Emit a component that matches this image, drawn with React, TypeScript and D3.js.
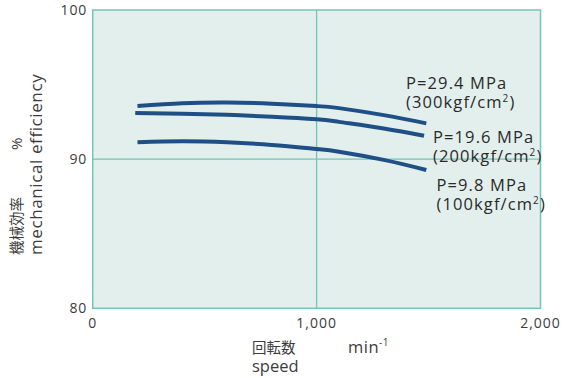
import React from "react";
import * as d3 from "d3";

const speeds29 = [200, 400, 600, 800, 1000, 1100, 1300, 1490];
const eff29 = [93.56, 93.75, 93.8, 93.72, 93.56, 93.42, 92.95, 92.4];
const speeds19 = [190, 400, 600, 800, 1000, 1100, 1300, 1480];
const eff19 = [93.1, 93.05, 92.97, 92.85, 92.68, 92.5, 92.05, 91.57];
const speeds9 = [200, 400, 600, 800, 1000, 1100, 1300, 1490];
const eff9 = [91.13, 91.2, 91.13, 90.95, 90.68, 90.5, 89.95, 89.27];

const xTicks = [0, 1000, 2000];
const yTicks = [80, 90, 100];
const labels = [
  { p: "P=29.4 MPa", k: "(300kgf/cm", sup: "2", end: ")" },
  { p: "P=19.6 MPa", k: "(200kgf/cm", sup: "2", end: ")" },
  { p: "P=9.8 MPa", k: "(100kgf/cm", sup: "2", end: ")" },
];

const W = 563, H = 378;
const M = { left: 92.7, top: 10, right: 540.5, bottom: 308.3 };
const LATIN = "'Open Sans', 'Noto Sans', sans-serif";
const CJK = "'Noto Sans CJK JP', sans-serif";
const TXT = "#3c3c3c";
const GRID = "#74c5b6";

export default function App() {
  const x = d3.scaleLinear().domain([0, 2000]).range([M.left, M.right]);
  const y = d3.scaleLinear().domain([80, 100]).range([M.bottom, M.top]);
  const line = d3
    .line<[number, number]>()
    .x((d) => x(d[0]))
    .y((d) => y(d[1]))
    .curve(d3.curveNatural);
  const series = [
    speeds29.map((s, i) => [s, eff29[i]] as [number, number]),
    speeds19.map((s, i) => [s, eff19[i]] as [number, number]),
    speeds9.map((s, i) => [s, eff9[i]] as [number, number]),
  ];
  const labelPos = [
    { x: 406, y: 88.5 },
    { x: 433, y: 142.5 },
    { x: 436.5, y: 190.5 },
  ];
  return (
    <svg
      width={W}
      height={H}
      style={{ position: "absolute", left: 0, top: 0 }}
      fontFamily={LATIN}
    >
      <rect x={M.left} y={M.top} width={M.right - M.left} height={M.bottom - M.top} fill="#e3efed" />
      <line x1={x(1000)} x2={x(1000)} y1={M.top} y2={M.bottom} stroke={GRID} strokeWidth={1.3} />
      <line x1={M.left} x2={M.right} y1={y(90)} y2={y(90)} stroke={GRID} strokeWidth={1.3} />
      <rect x={M.left} y={M.top} width={M.right - M.left} height={M.bottom - M.top} fill="none" stroke={GRID} strokeWidth={1.5} />
      {series.map((s, i) => (
        <path key={i} d={line(s) || ""} fill="none" stroke="#1f5085" strokeWidth={4} />
      ))}
      {yTicks.map((t) => (
        <text key={t} x={87} y={y(t) + 5} textAnchor="end" fontSize={14} letterSpacing={0.8} fill={TXT}>
          {t}
        </text>
      ))}
      {xTicks.map((t) => (
        <text key={t} x={x(t)} y={328} textAnchor="middle" fontSize={14} letterSpacing={1} fill={TXT}>
          {d3.format(",")(t)}
        </text>
      ))}
      {labels.map((l, i) => (
        <g key={i} fontSize={16.5} letterSpacing={1.1} fill="#2a2a2a">
          <text x={labelPos[i].x} y={labelPos[i].y}>{l.p}</text>
          <text x={labelPos[i].x} y={labelPos[i].y + 19.5}>
            {l.k}
            <tspan fontSize={10} dy={-6}>{l.sup}</tspan>
            <tspan dy={6}>{l.end}</tspan>
          </text>
        </g>
      ))}
      <text x={252} y={352.5} fontFamily={CJK} fontSize={14.5} fill={TXT}>回転数</text>
      <text x={252} y={372} fontSize={16.5} fill={TXT}>speed</text>
      <text x={348} y={353} fontSize={16.5} letterSpacing={0.5} fill={TXT}>
        min<tspan fontSize={10} dy={-7}>-1</tspan>
      </text>
      <text transform="translate(22,255) rotate(-90)" fontFamily={CJK} fontSize={14.5} fill={TXT}>機械効率</text>
      <text transform="translate(22,150) rotate(-90)" fontSize={15} fill={TXT}>%</text>
      <text transform="translate(42,255) rotate(-90)" fontSize={17} letterSpacing={0.6} fill={TXT}>mechanical efficiency</text>
    </svg>
  );
}
